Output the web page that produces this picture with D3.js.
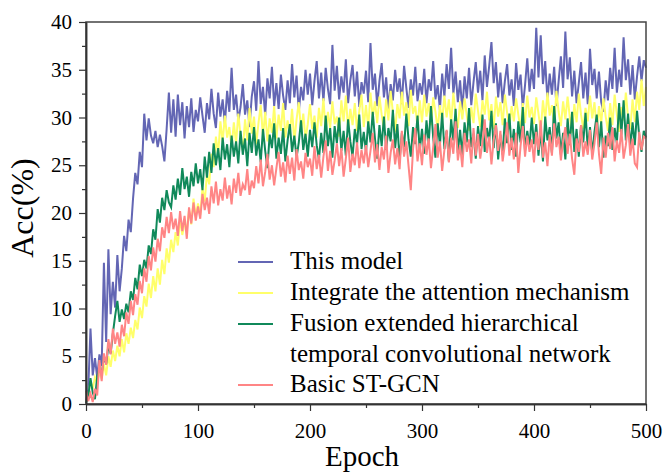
<!DOCTYPE html>
<html>
<head>
<meta charset="utf-8">
<script src="https://cdn.jsdelivr.net/npm/d3@7"></script>
<style>
  body { margin: 0; background: #fff; }
  svg text { font-family: "Liberation Serif", "Times New Roman", serif; fill: #000; }
</style>
</head>
<body>
<div id="chart"></div>
<script>
// Accuracy per epoch, every 2 epochs (0..500)
const epochStep = 2;

const thisModel = [
  0.3,1.5,7.9,3.0,4.8,2.8,5.2,4.0,14.8,6.5,16.2,9.4,12.8,10.1,15.6,11.8,14.2,17.6,16.0,19.3,18.0,21.5,24.2,23.0,26.4,
  24.8,30.4,27.6,29.9,28.1,27.3,28.6,26.9,28.2,27.0,25.4,28.8,32.6,28.4,31.9,28.0,32.4,29.2,31.6,27.8,31.2,29.0,32.0,28.5,30.8,
  29.6,32.1,30.2,28.4,31.5,29.8,33.0,30.4,28.9,32.6,30.1,31.9,29.3,32.8,30.6,35.2,30.8,32.4,29.6,31.1,33.5,30.3,31.8,29.0,32.2,
  33.8,30.7,35.9,31.4,33.2,30.2,34.1,32.0,35.3,31.2,33.6,30.9,34.5,32.3,30.8,33.9,31.5,35.6,32.1,34.4,30.6,33.2,31.8,35.0,32.4,
  34.6,31.3,33.8,35.9,32.0,34.7,31.7,35.2,33.0,31.4,37.6,32.8,35.4,31.9,34.3,32.6,36.1,31.5,33.9,35.5,32.2,34.8,31.1,33.7,32.5,
  34.9,31.6,37.8,32.9,34.6,31.2,33.8,35.7,32.1,34.2,30.9,33.5,31.8,35.0,32.7,34.1,31.4,35.4,33.1,31.0,34.0,32.3,35.3,31.7,33.6,
  32.4,35.1,31.5,34.0,32.8,35.9,31.9,33.4,30.8,34.6,32.2,35.6,33.0,37.3,32.5,34.8,31.6,33.9,30.7,34.3,32.0,35.2,31.3,33.7,35.8,
  32.6,34.9,31.8,36.5,33.2,35.4,37.9,33.6,35.8,32.1,34.7,31.5,33.8,35.6,32.3,34.0,31.2,35.7,32.9,34.5,31.0,33.4,36.2,32.7,35.1,
  33.0,39.4,34.2,38.6,33.5,35.9,31.8,34.6,32.4,35.3,31.2,33.8,36.4,33.1,39.0,34.0,36.3,32.2,34.9,31.5,33.6,35.8,32.0,34.7,31.4,
  37.2,33.4,35.1,32.0,34.8,31.6,30.6,33.9,31.8,35.2,33.0,37.3,32.6,35.0,33.2,38.4,33.9,36.1,32.4,35.5,31.9,34.3,36.4,33.8,36.0,
  35.2
];

const attention = [
  0.2,0.9,2.4,1.6,2.8,2.2,3.4,2.6,4.2,3.0,5.0,3.9,5.6,4.5,6.1,5.0,6.8,5.4,7.4,6.3,8.0,6.9,8.8,7.8,10.1,
  9.0,11.3,10.2,12.6,11.1,13.4,11.8,14.2,12.5,15.1,13.6,16.3,14.8,17.2,15.9,18.0,16.6,19.4,17.7,19.0,18.2,20.3,18.8,21.5,19.6,
  21.0,19.8,22.6,21.2,24.1,23.0,26.2,24.8,28.0,26.1,29.6,27.4,30.2,27.9,29.0,26.8,29.5,27.3,30.4,28.1,26.5,29.8,27.6,31.0,28.3,
  30.1,27.2,29.4,31.3,28.0,30.6,27.5,29.9,28.4,31.2,27.8,30.3,28.6,31.5,27.9,29.7,28.2,30.9,27.4,29.8,31.6,28.5,30.4,27.7,29.3,
  31.4,28.8,30.2,27.9,31.0,29.1,32.0,28.4,30.6,28.9,31.7,29.3,30.1,28.0,31.8,29.6,32.3,28.7,30.9,29.2,31.5,28.6,30.7,32.4,29.0,
  31.3,28.9,32.6,30.0,31.7,29.4,32.2,30.3,28.8,31.9,29.7,32.8,30.5,28.5,31.4,29.9,32.7,30.2,31.6,29.1,32.9,30.4,31.2,29.0,31.8,
  29.5,32.4,30.1,31.5,29.2,32.1,30.6,28.7,31.3,29.6,32.3,30.0,31.9,29.3,32.6,30.4,28.9,31.7,29.8,32.0,30.2,28.6,31.1,29.4,32.5,
  30.7,29.0,31.8,30.3,32.7,29.7,31.4,28.8,32.2,30.1,31.6,29.2,32.4,30.5,28.9,31.2,29.6,32.0,30.3,28.7,31.5,29.4,32.3,30.0,31.1,
  29.3,32.1,30.4,28.6,31.8,29.7,32.6,30.2,31.3,28.9,32.8,30.6,29.1,31.7,29.8,32.2,30.0,28.4,31.4,29.5,32.5,30.3,28.8,31.0,29.6,
  32.3,29.9,31.6,28.7,31.2,29.4,32.0,30.1,28.6,31.5,29.2,32.4,30.3,28.5,31.1,29.7,32.6,30.0,28.8,31.9,29.5,32.7,30.8,34.0,31.2,
  33.2
];

const fusion = [
  0.1,0.8,2.7,1.2,0.5,2.9,3.8,3.1,5.0,4.2,6.1,5.3,7.4,9.2,10.8,8.6,9.9,8.9,10.5,9.6,11.8,10.9,13.2,12.0,14.6,
  13.4,15.1,14.2,16.6,15.7,18.3,17.2,20.4,19.0,21.6,20.3,22.4,21.1,20.6,22.9,21.4,23.6,21.9,24.7,22.5,23.8,21.7,24.3,22.8,25.2,
  23.1,24.6,22.4,25.9,23.7,26.4,24.2,27.3,25.0,26.8,24.5,27.9,25.6,27.2,24.8,28.1,25.9,27.5,25.2,28.6,26.1,27.8,24.9,28.4,26.3,
  29.0,26.0,27.7,25.3,28.8,26.5,24.7,28.2,26.8,29.4,25.7,27.9,26.2,28.9,25.4,27.6,29.3,26.4,28.1,25.8,27.4,29.7,26.6,28.3,25.9,
  28.7,26.9,29.5,27.1,25.6,28.4,26.3,30.2,27.0,28.9,25.8,29.1,27.3,30.0,26.5,28.6,26.0,29.8,27.5,25.9,28.8,27.2,30.3,26.7,28.5,
  26.4,29.6,27.4,30.6,27.8,25.7,29.2,27.0,30.1,26.6,28.9,27.5,30.8,26.8,29.3,25.5,28.4,26.9,30.4,27.7,25.9,29.0,27.2,30.2,26.5,
  28.8,26.2,29.7,27.3,31.2,27.9,25.8,29.4,27.1,30.5,26.7,28.6,25.4,29.8,27.6,30.9,26.3,28.7,26.0,29.5,27.4,31.0,26.9,28.3,25.7,
  29.1,27.0,30.3,26.4,28.9,27.5,30.7,26.8,29.4,25.6,28.2,26.1,29.9,27.3,30.4,26.6,28.8,25.9,29.6,27.4,31.1,26.5,28.6,27.0,30.0,
  27.2,29.3,26.0,28.7,25.4,30.1,27.6,29.0,26.3,31.2,27.8,29.5,26.1,28.4,25.6,29.9,27.1,30.6,26.4,28.8,25.9,29.2,27.4,30.5,26.7,
  29.0,26.2,28.5,30.3,26.9,29.6,25.8,28.1,27.0,30.0,26.6,28.9,27.3,31.5,28.2,31.8,27.6,30.4,26.8,29.5,27.1,30.7,28.0,26.4,28.6,
  27.9
];

const basic = [
  1.4,0.3,1.1,0.2,1.6,0.9,4.6,2.4,5.3,4.1,6.8,5.2,7.9,6.3,7.5,6.0,8.3,7.1,9.6,8.4,10.8,9.3,11.5,10.4,12.9,
  11.6,14.2,12.8,15.5,14.0,16.4,14.9,17.3,16.0,18.5,17.4,19.6,17.9,20.1,18.3,19.4,17.6,20.2,18.1,19.7,17.3,20.6,18.9,21.1,19.2,
  20.7,19.4,22.0,20.3,21.6,19.9,22.8,21.0,23.3,20.8,22.5,21.3,23.7,21.5,22.9,20.9,23.6,22.1,24.2,21.8,23.0,22.4,24.6,21.9,23.4,
  22.6,24.9,23.1,25.6,22.8,24.3,26.2,23.5,25.0,22.9,24.7,26.4,23.8,25.3,23.2,26.0,24.1,25.8,23.4,26.7,24.5,25.4,23.6,26.3,24.8,
  25.7,23.9,27.0,24.6,26.1,23.7,25.9,27.6,24.4,26.5,24.0,25.5,27.3,24.9,26.8,23.8,25.7,27.9,24.3,26.2,25.0,27.4,24.7,26.6,25.2,
  27.1,24.8,26.5,28.4,25.3,27.2,24.5,26.9,25.6,28.1,24.2,26.3,27.7,25.1,26.8,24.6,28.6,25.9,27.5,24.9,22.4,26.7,28.9,25.4,27.3,
  25.0,28.2,26.1,27.8,24.7,26.9,29.3,25.8,27.5,24.4,26.6,28.7,25.3,27.9,26.2,29.6,25.5,27.1,24.8,28.4,26.4,27.7,25.2,28.9,26.0,
  28.3,25.7,27.4,29.8,26.3,28.0,25.1,27.6,29.2,26.5,28.6,25.4,27.2,29.5,26.0,27.9,25.6,28.4,24.2,27.0,29.1,25.9,28.1,26.4,27.7,
  25.3,28.5,26.6,29.7,25.8,27.4,24.9,28.2,26.0,29.4,26.9,28.0,25.5,27.6,29.0,26.2,28.3,25.7,24.0,27.8,26.4,29.2,25.9,27.5,26.1,
  28.7,25.6,27.3,29.5,26.2,24.1,27.9,25.8,28.4,26.7,29.0,25.4,27.6,26.3,28.8,25.7,27.1,29.3,26.0,27.8,25.2,24.8,28.5,26.6,28.0,
  27.8
];

const seriesNames = [
  ["This model"],
  ["Integrate the attention mechanism"],
  ["Fusion extended hierarchical", "temporal convolutional network"],
  ["Basic ST-GCN"]
];
const seriesColors = ["#6366b4", "#ffff6a", "#10895a", "#ff8585"];
const seriesValues = [thisModel, attention, fusion, basic];

const xTicks = [0, 100, 200, 300, 400, 500];
const xMinorTicks = [50, 150, 250, 350, 450];
const yTicks = [0, 5, 10, 15, 20, 25, 30, 35, 40];
const yMinorTicks = [2.5, 7.5, 12.5, 17.5, 22.5, 27.5, 32.5, 37.5];

const margin = { top: 22, right: 21, bottom: 71, left: 86 };
const width = 667 - margin.left - margin.right;
const height = 475 - margin.top - margin.bottom;

const svg = d3.select("#chart").append("svg")
  .attr("width", 667)
  .attr("height", 475);

const g = svg.append("g")
  .attr("transform", `translate(${margin.left},${margin.top})`);

const x = d3.scaleLinear().domain([0, 500]).range([0, width]);
const y = d3.scaleLinear().domain([0, 40]).range([height, 0]);

// Lines
const line = d3.line()
  .x((_, i) => x(i * epochStep))
  .y(d => y(d));

seriesValues.forEach((vals, k) => {
  g.append("path")
    .datum(vals)
    .attr("fill", "none")
    .attr("stroke", seriesColors[k])
    .attr("stroke-width", 2)
    .attr("stroke-linejoin", "miter")
    .attr("d", line);
});

// Frame
g.append("rect")
  .attr("width", width)
  .attr("height", height)
  .attr("fill", "none")
  .attr("stroke", "#444")
  .attr("stroke-width", 1.5);

// Axes
const styleAxis = sel => {
  sel.select(".domain").attr("stroke", "#333").attr("stroke-width", 1.5);
  sel.selectAll(".tick line").attr("stroke", "#333").attr("stroke-width", 1.2);
  sel.selectAll("text").attr("font-size", 21).attr("fill", "#000");
};

g.append("g")
  .attr("transform", `translate(0,${height})`)
  .call(d3.axisBottom(x).tickValues(xMinorTicks).tickSize(4).tickSizeOuter(0).tickFormat(""))
  .call(styleAxis);
g.append("g")
  .attr("transform", `translate(0,${height})`)
  .call(d3.axisBottom(x).tickValues(xTicks).tickSize(7).tickSizeOuter(0).tickPadding(12))
  .call(styleAxis);

g.append("g")
  .call(d3.axisLeft(y).tickValues(yMinorTicks).tickSize(4).tickSizeOuter(0).tickFormat(""))
  .call(styleAxis);
g.append("g")
  .call(d3.axisLeft(y).tickValues(yTicks).tickSize(7).tickSizeOuter(0).tickPadding(7))
  .call(styleAxis);

// Axis titles
svg.append("text")
  .attr("x", 362)
  .attr("y", 466)
  .attr("text-anchor", "middle")
  .attr("font-size", 29)
  .text("Epoch");

svg.append("text")
  .attr("transform", "translate(33,208) rotate(-90)")
  .attr("text-anchor", "middle")
  .attr("font-size", 32)
  .text("Acc(%)");

// Legend
const legendRows = [262, 293, 324, 385];
const legend = svg.append("g");
seriesNames.forEach((lines, k) => {
  legend.append("line")
    .attr("x1", 238).attr("x2", 273)
    .attr("y1", legendRows[k]).attr("y2", legendRows[k])
    .attr("stroke", seriesColors[k])
    .attr("stroke-width", 1.8);
  lines.forEach((t, j) => {
    legend.append("text")
      .attr("x", 290)
      .attr("y", legendRows[k] + 7 + j * 31)
      .attr("font-size", 25)
      .text(t);
  });
});
</script>
</body>
</html>
